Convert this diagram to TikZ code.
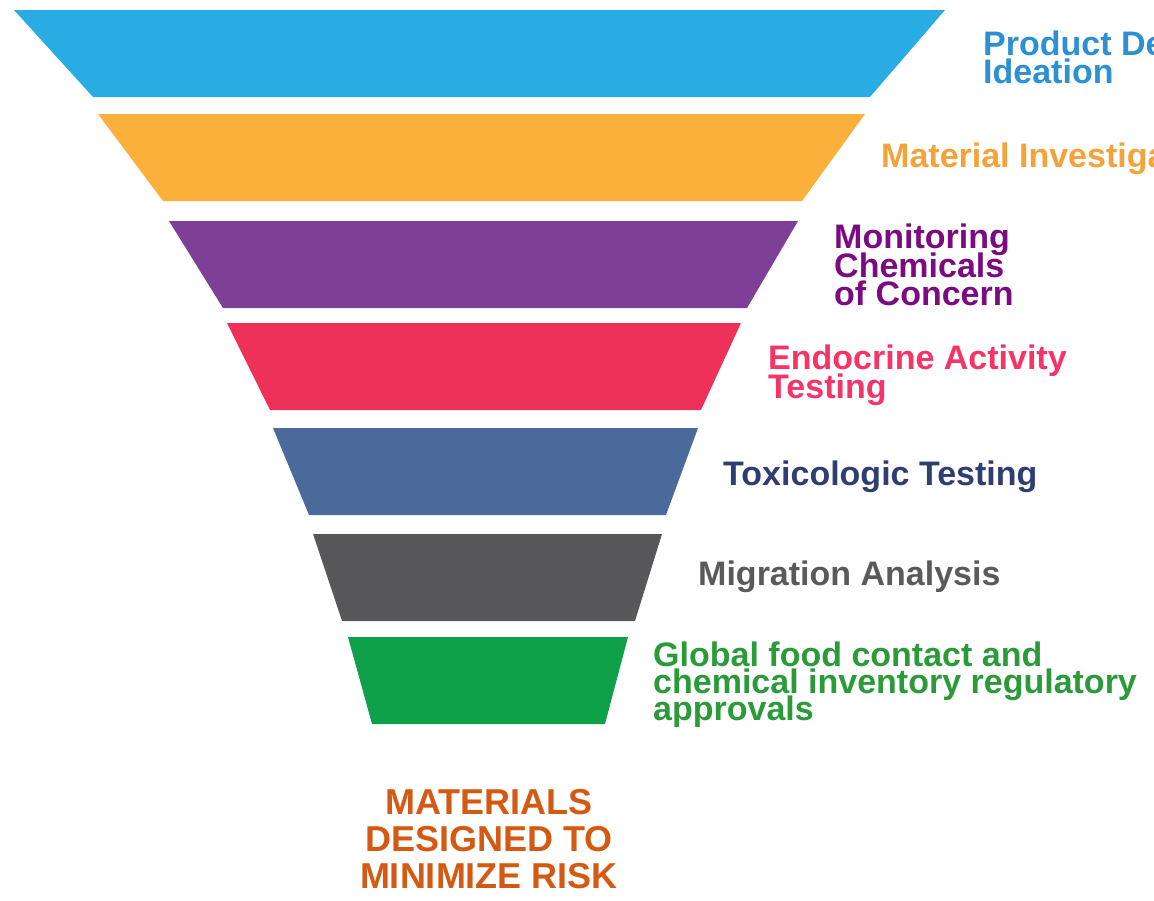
\documentclass[tikz,border=0pt]{standalone}
\usepackage{fontspec}
\setmainfont{Liberation Sans}
\definecolor{fBlue}{HTML}{29ACE3}
\definecolor{fOrange}{HTML}{FBB03B}
\definecolor{fPurple}{HTML}{7E3F97}
\definecolor{fRed}{HTML}{EE3159}
\definecolor{fSteel}{HTML}{4A6A9C}
\definecolor{fGray}{HTML}{58585A}
\definecolor{fGreen}{HTML}{0FA04A}
\definecolor{tBlue}{HTML}{2C90D2}
\definecolor{tOrange}{HTML}{F4A23A}
\definecolor{tPurple}{HTML}{7A0B80}
\definecolor{tPink}{HTML}{F63468}
\definecolor{tNavy}{HTML}{2F3E72}
\definecolor{tGray}{HTML}{5A5A5A}
\definecolor{tGreen}{HTML}{2B9B3A}
\definecolor{tRust}{HTML}{D45A13}
\begin{document}
\lineskiplimit=-100pt\relax
\lineskip=0pt\relax
\begin{tikzpicture}[x=1pt,y=-1pt,
  lbl/.style={anchor=north west,inner sep=0pt,align=left,
    font=\fontsize{34}{28.5}\selectfont\bfseries},
  lblA/.style={lbl,font=\fontsize{34}{28}\selectfont\bfseries},
  lblB/.style={lbl,font=\fontsize{34}{26.8}\selectfont\bfseries},
  result/.style={anchor=north,inner sep=0pt,align=center,text=tRust,
    font=\fontsize{36}{37}\selectfont\bfseries}]
\clip (0,0) rectangle (1154,900);
% funnel bands
\fill[fBlue]   (14,10)  -- (945,10)  -- (870,97)  -- (93,97)  -- cycle;
\fill[fOrange] (98,114) -- (865,114) -- (802,201) -- (163,201) -- cycle;
\fill[fPurple] (169,221) -- (798,221) -- (747,308) -- (223,308) -- cycle;
\fill[fRed]    (227,323) -- (741,323) -- (701,410) -- (270,410) -- cycle;
\fill[fSteel]  (273,428) -- (698,428) -- (666,515) -- (309,515) -- cycle;
\fill[fGray]   (313,534) -- (662,534) -- (635,621) -- (342,621) -- cycle;
\fill[fGreen]  (348,637) -- (628,637) -- (605,724) -- (372,724) -- cycle;
% labels
\node[lblA,text=tBlue]  (l1) at (983,30.7)  {Product De\\Ideation};
\node[lbl,text=tOrange] (l2) at (881,142.7) {Material Investiga};
\node[lbl,text=tPurple] (l3) at (834,223.7) {Monitoring\\Chemicals\\of Concern};
\node[lbl,text=tPink]   (l4) at (768,345)   {Endocrine Activity\\Testing};
\node[lbl,text=tNavy]   (l5) at (723,460.7) {Toxicologic Testing};
\node[lbl,text=tGray]   (l6) at (698,560.7) {Migration Analysis};
\node[lblB,text=tGreen] (l7) at (653,641.7) {Global food contact and\\chemical inventory regulatory\\approvals};
\node[result] (res) at (489,789) {MATERIALS\\DESIGNED TO\\MINIMIZE RISK};
\end{tikzpicture}
\end{document}
